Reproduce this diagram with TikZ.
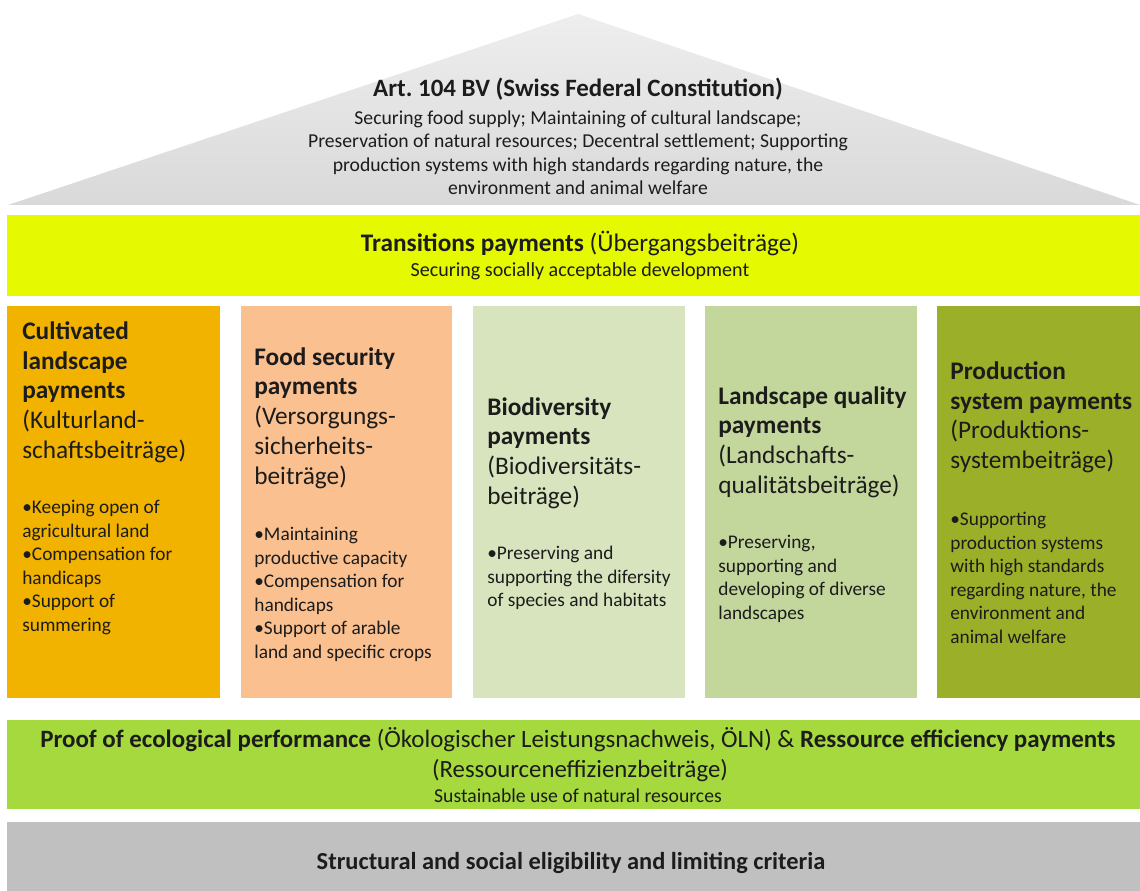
\documentclass[tikz,border=0pt]{standalone}
\usepackage{fontspec}
\setmainfont{Carlito}

\definecolor{roofgray}{HTML}{D9D9D9}
\definecolor{rooftop}{HTML}{EEEEEE}
\definecolor{transyellow}{HTML}{E5FA00}
\definecolor{cultorange}{HTML}{F2B200}
\definecolor{foodsalmon}{HTML}{FAC08F}
\definecolor{biogreen}{HTML}{D7E4BD}
\definecolor{landgreen}{HTML}{C3D69B}
\definecolor{prodolive}{HTML}{9BAF28}
\definecolor{oelngreen}{HTML}{A5D93D}
\definecolor{basegray}{HTML}{C0C0C0}
\definecolor{textdark}{HTML}{1C1C1C}

\begin{document}
\begin{tikzpicture}[x=0.02cm,y=-0.02cm,
    ptitle/.style={anchor=north west, align=left, inner sep=0pt, text=textdark,
        font=\fontsize{14.4}{17}\selectfont},
    plist/.style={anchor=north west, align=left, inner sep=0pt, text=textdark,
        font=\fontsize{11}{13.4}\selectfont},
    bandtext/.style={anchor=base, inner sep=0pt, text=textdark}]
    \useasboundingbox (0,0) rectangle (1140,891);

    % roof and bands
    \shade[top color=rooftop, bottom color=roofgray] (578,14) -- (1140,205) -- (8,205) -- cycle;
    \fill[transyellow] (7,215) rectangle (1140,296);
    \fill[cultorange] (7,306) rectangle (220,698);
    \fill[foodsalmon] (241,306) rectangle (452,698);
    \fill[biogreen] (473,306) rectangle (685,698);
    \fill[landgreen] (705,306) rectangle (917,698);
    \fill[prodolive] (937,306) rectangle (1140,698);
    \fill[oelngreen] (7,720) rectangle (1140,809);
    \fill[basegray] (7,822) rectangle (1140,891);

    % roof text
    \node[bandtext, font=\fontsize{14.2}{16}\selectfont\bfseries] (roofT) at (578,97)
        {Art.\ 104 BV (Swiss Federal Constitution)};
    \node[anchor=north, align=center, inner sep=0pt, text=textdark,
        font=\fontsize{11.2}{13.4}\selectfont] (roofB) at (578,110)
        {Securing food supply; Maintaining of cultural landscape;\\
         Preservation of natural resources; Decentral settlement; Supporting\\
         production systems with high standards regarding nature, the\\
         environment and animal welfare};

    % transition band
    \node[bandtext, font=\fontsize{14.4}{17}\selectfont] (transT) at (580,252)
        {\textbf{Transitions payments} (Übergangsbeiträge)};
    \node[bandtext, font=\fontsize{11.4}{13}\selectfont] (transS) at (580,277)
        {Securing socially acceptable development};

    % pillars
    \node[ptitle] (cultT) at (22,321)
        {\textbf{Cultivated}\\ \textbf{landscape}\\ \textbf{payments}\\ (Kulturland-\\ schaftsbeiträge)};
    \node[plist] (cultL) at (22,500)
        {•Keeping open of\\ agricultural land\\ •Compensation for\\ handicaps\\ •Support of\\ summering};

    \node[ptitle] (foodT) at (254,347)
        {\textbf{Food security}\\ \textbf{payments}\\ (Versorgungs-\\ sicherheits-\\ beiträge)};
    \node[plist] (foodL) at (254,527)
        {•Maintaining\\ productive capacity\\ •Compensation for\\ handicaps\\ •Support of arable\\ land and specific crops};

    \node[ptitle] (bioT) at (487,397)
        {\textbf{Biodiversity}\\ \textbf{payments}\\ (Biodiversitäts-\\ beiträge)};
    \node[plist] (bioL) at (487,546)
        {•Preserving and\\ supporting the difersity\\ of species and habitats};

    \node[ptitle] (landT) at (718,386)
        {\textbf{Landscape quality}\\ \textbf{payments}\\ (Landschafts-\\ qualitätsbeiträge)};
    \node[plist] (landL) at (718,535)
        {•Preserving,\\ supporting and\\ developing of diverse\\ landscapes};

    \node[ptitle] (prodT) at (950,361)
        {\textbf{Production}\\ \textbf{system payments}\\ (Produktions-\\ systembeiträge)};
    \node[plist] (prodL) at (950,512)
        {•Supporting\\ production systems\\ with high standards\\ regarding nature, the\\ environment and\\ animal welfare};

    % foundation bands
    \node[bandtext, font=\fontsize{14.2}{17}\selectfont] (oelnA) at (578,747)
        {\textbf{Proof of ecological performance} (Ökologischer Leistungsnachweis, ÖLN) \& \textbf{Ressource efficiency payments}};
    \node[bandtext, font=\fontsize{14.1}{17}\selectfont] (oelnB) at (580,778)
        {(Ressourceneffizienzbeiträge)};
    \node[bandtext, font=\fontsize{11.2}{13}\selectfont] (oelnC) at (578,803)
        {Sustainable use of natural resources};
    \node[bandtext, font=\fontsize{13.9}{16}\selectfont\bfseries] (baseT) at (571,869)
        {Structural and social eligibility and limiting criteria};
\end{tikzpicture}
\end{document}
